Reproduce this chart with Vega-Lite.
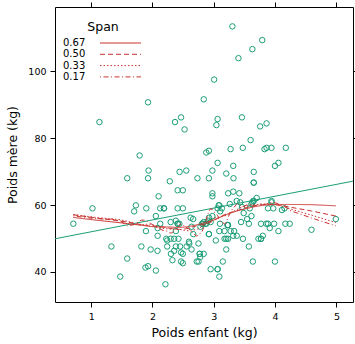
{
  "$schema": "https://vega.github.io/schema/vega-lite/v6.json",
  "width": 298,
  "height": 295,
  "autosize": {"type": "none"},
  "padding": {"left": 55, "top": 7, "right": 2, "bottom": 42},
  "background": "white",
  "config": {
    "view": {"stroke": "black", "strokeWidth": 1},
    "font": "DejaVu Sans",
    "axis": {"grid": false, "domain": false, "tickColor": "black", "tickSize": 5, "labelFontSize": 9.5, "labelColor": "black", "labelPadding": 4, "titleFontSize": 12.5, "titleFontWeight": "normal", "titleColor": "black"}
  },
  "data": {"values": [
    {"bwt":2.523,"lwt":82.6},{"bwt":2.551,"lwt":70.3},{"bwt":2.557,"lwt":47.6},{"bwt":2.594,"lwt":49.0},{"bwt":2.600,"lwt":48.5},
    {"bwt":2.622,"lwt":56.2},{"bwt":2.637,"lwt":53.5},{"bwt":2.637,"lwt":46.7},{"bwt":2.663,"lwt":55.8},{"bwt":2.665,"lwt":51.3},
    {"bwt":2.722,"lwt":43.1},{"bwt":2.733,"lwt":68.0},{"bwt":2.751,"lwt":43.1},{"bwt":2.750,"lwt":48.5},{"bwt":2.769,"lwt":45.4},
    {"bwt":2.769,"lwt":45.4},{"bwt":2.778,"lwt":44.5},{"bwt":2.782,"lwt":53.5},{"bwt":2.807,"lwt":54.4},{"bwt":2.821,"lwt":54.4},
    {"bwt":2.835,"lwt":54.9},{"bwt":2.835,"lwt":45.4},{"bwt":2.836,"lwt":91.6},{"bwt":2.863,"lwt":54.4},{"bwt":2.877,"lwt":54.4},
    {"bwt":2.877,"lwt":75.7},{"bwt":2.906,"lwt":55.3},{"bwt":2.920,"lwt":68.0},{"bwt":2.920,"lwt":76.2},{"bwt":2.920,"lwt":51.3},
    {"bwt":2.920,"lwt":51.3},{"bwt":2.948,"lwt":40.8},{"bwt":2.948,"lwt":54.9},{"bwt":2.977,"lwt":70.3},{"bwt":2.977,"lwt":56.7},
    {"bwt":2.977,"lwt":63.5},{"bwt":2.977,"lwt":62.6},{"bwt":2.922,"lwt":56.2},{"bwt":3.005,"lwt":97.5},{"bwt":3.033,"lwt":49.4},
    {"bwt":3.042,"lwt":83.9},{"bwt":3.062,"lwt":85.7},{"bwt":3.062,"lwt":59.0},{"bwt":3.062,"lwt":72.6},{"bwt":3.062,"lwt":40.8},
    {"bwt":3.062,"lwt":40.8},{"bwt":3.080,"lwt":59.9},{"bwt":3.090,"lwt":59.9},{"bwt":3.090,"lwt":52.2},{"bwt":3.090,"lwt":38.6},
    {"bwt":3.100,"lwt":54.4},{"bwt":3.104,"lwt":58.1},{"bwt":3.132,"lwt":59.0},{"bwt":3.147,"lwt":43.1},{"bwt":3.175,"lwt":52.2},
    {"bwt":3.175,"lwt":49.9},{"bwt":3.203,"lwt":49.9},{"bwt":3.203,"lwt":69.4},{"bwt":3.203,"lwt":46.7},{"bwt":3.225,"lwt":54.0},
    {"bwt":3.225,"lwt":54.0},{"bwt":3.232,"lwt":54.0},{"bwt":3.232,"lwt":49.9},{"bwt":3.234,"lwt":63.5},{"bwt":3.260,"lwt":60.3},
    {"bwt":3.274,"lwt":76.7},{"bwt":3.274,"lwt":52.2},{"bwt":3.303,"lwt":113.4},{"bwt":3.317,"lwt":64.0},{"bwt":3.317,"lwt":71.7},
    {"bwt":3.317,"lwt":50.8},{"bwt":3.321,"lwt":68.0},{"bwt":3.331,"lwt":52.2},{"bwt":3.374,"lwt":50.8},{"bwt":3.374,"lwt":61.2},
    {"bwt":3.402,"lwt":103.9},{"bwt":3.416,"lwt":63.5},{"bwt":3.430,"lwt":60.8},{"bwt":3.444,"lwt":54.9},{"bwt":3.459,"lwt":86.2},
    {"bwt":3.460,"lwt":59.4},{"bwt":3.473,"lwt":77.1},{"bwt":3.475,"lwt":49.9},{"bwt":3.487,"lwt":57.6},{"bwt":3.544,"lwt":55.8},
    {"bwt":3.572,"lwt":54.4},{"bwt":3.572,"lwt":47.6},{"bwt":3.586,"lwt":59.0},{"bwt":3.600,"lwt":79.4},{"bwt":3.614,"lwt":56.7},
    {"bwt":3.614,"lwt":60.3},{"bwt":3.629,"lwt":60.8},{"bwt":3.629,"lwt":106.6},{"bwt":3.637,"lwt":43.1},{"bwt":3.643,"lwt":61.2},
    {"bwt":3.651,"lwt":61.2},{"bwt":3.651,"lwt":69.9},{"bwt":3.651,"lwt":66.7},{"bwt":3.651,"lwt":66.7},{"bwt":3.699,"lwt":62.1},
    {"bwt":3.728,"lwt":49.9},{"bwt":3.756,"lwt":83.5},{"bwt":3.770,"lwt":49.9},{"bwt":3.770,"lwt":49.9},{"bwt":3.770,"lwt":54.4},
    {"bwt":3.790,"lwt":109.3},{"bwt":3.799,"lwt":50.8},{"bwt":3.827,"lwt":76.7},{"bwt":3.856,"lwt":54.4},{"bwt":3.860,"lwt":77.1},
    {"bwt":3.860,"lwt":84.4},{"bwt":3.884,"lwt":54.4},{"bwt":3.884,"lwt":59.0},{"bwt":3.912,"lwt":53.1},{"bwt":3.940,"lwt":77.1},
    {"bwt":3.941,"lwt":60.8},{"bwt":3.941,"lwt":61.2},{"bwt":3.969,"lwt":59.0},{"bwt":3.983,"lwt":54.4},{"bwt":3.997,"lwt":43.1},
    {"bwt":3.997,"lwt":71.7},{"bwt":4.054,"lwt":72.6},{"bwt":4.054,"lwt":52.2},{"bwt":4.111,"lwt":58.5},{"bwt":4.153,"lwt":59.0},
    {"bwt":4.167,"lwt":54.4},{"bwt":4.174,"lwt":77.1},{"bwt":4.238,"lwt":54.4},{"bwt":4.593,"lwt":52.6},{"bwt":4.990,"lwt":55.8},
    {"bwt":0.709,"lwt":54.4},{"bwt":1.021,"lwt":59.0},{"bwt":1.135,"lwt":84.8},{"bwt":1.330,"lwt":47.6},{"bwt":1.474,"lwt":38.6},
    {"bwt":1.588,"lwt":68.0},{"bwt":1.588,"lwt":44.0},{"bwt":1.701,"lwt":58.1},{"bwt":1.729,"lwt":59.9},{"bwt":1.790,"lwt":74.8},
    {"bwt":1.818,"lwt":47.6},{"bwt":1.885,"lwt":41.3},{"bwt":1.893,"lwt":52.2},{"bwt":1.899,"lwt":59.0},{"bwt":1.928,"lwt":41.7},
    {"bwt":1.928,"lwt":68.0},{"bwt":1.928,"lwt":90.7},{"bwt":1.936,"lwt":70.3},{"bwt":1.970,"lwt":46.7},{"bwt":2.055,"lwt":56.7},
    {"bwt":2.055,"lwt":40.4},{"bwt":2.082,"lwt":46.3},{"bwt":2.084,"lwt":50.8},{"bwt":2.084,"lwt":53.1},{"bwt":2.100,"lwt":62.6},
    {"bwt":2.125,"lwt":59.0},{"bwt":2.126,"lwt":54.4},{"bwt":2.187,"lwt":59.0},{"bwt":2.187,"lwt":59.0},{"bwt":2.211,"lwt":36.3},
    {"bwt":2.225,"lwt":49.9},{"bwt":2.240,"lwt":47.6},{"bwt":2.240,"lwt":49.4},{"bwt":2.282,"lwt":67.1},{"bwt":2.296,"lwt":49.9},
    {"bwt":2.296,"lwt":54.9},{"bwt":2.301,"lwt":45.4},{"bwt":2.325,"lwt":43.5},{"bwt":2.353,"lwt":46.3},{"bwt":2.353,"lwt":49.9},
    {"bwt":2.367,"lwt":84.8},{"bwt":2.381,"lwt":55.3},{"bwt":2.381,"lwt":47.6},{"bwt":2.381,"lwt":52.2},{"bwt":2.410,"lwt":54.4},
    {"bwt":2.410,"lwt":64.4},{"bwt":2.410,"lwt":59.0},{"bwt":2.414,"lwt":54.4},{"bwt":2.424,"lwt":49.9},{"bwt":2.438,"lwt":54.4},
    {"bwt":2.442,"lwt":69.9},{"bwt":2.450,"lwt":47.6},{"bwt":2.466,"lwt":86.2},{"bwt":2.466,"lwt":45.8},{"bwt":2.466,"lwt":43.1},
    {"bwt":2.495,"lwt":45.4},{"bwt":2.495,"lwt":42.6},{"bwt":2.495,"lwt":64.4},{"bwt":2.495,"lwt":59.0}
  ]},
  "resolve": {"axis": {"x": "independent", "y": "independent"}},
  "layer": [
    {
      "mark": {"type": "point", "shape": "circle", "filled": false, "size": 30, "strokeWidth": 1, "color": "#1B9E77", "opacity": 1},
      "encoding": {
        "x": {"field": "bwt", "type": "quantitative", "scale": {"domain": [0.41, 5.27], "nice": false, "zero": false}, "axis": {"orient": "bottom", "title": "Poids enfant (kg)", "values": [1, 2, 3, 4, 5], "titlePadding": 6}},
        "y": {"field": "lwt", "type": "quantitative", "scale": {"domain": [31, 119.2], "nice": false, "zero": false}, "axis": {"orient": "left", "title": "Poids mère (kg)", "values": [40, 60, 80, 100], "titlePadding": 8}}
      }
    },
    {
      "transform": [{"regression": "lwt", "on": "bwt", "extent": [0.41, 5.27]}],
      "mark": {"type": "line", "color": "#1B9E77", "strokeWidth": 1, "clip": true},
      "encoding": {
        "x": {"field": "bwt", "type": "quantitative", "scale": {"domain": [0.41, 5.27], "nice": false, "zero": false}, "axis": {"orient": "top", "labels": false, "title": null, "values": [1, 2, 3, 4, 5]}},
        "y": {"field": "lwt", "type": "quantitative", "scale": {"domain": [31, 119.2], "nice": false, "zero": false}, "axis": {"orient": "right", "labels": false, "title": null, "values": [40, 60, 80, 100]}}
      }
    },
    {
      "transform": [{"loess": "lwt", "on": "bwt", "bandwidth": 0.67}],
      "mark": {"type": "line", "color": "#C8332F", "strokeWidth": 1},
      "encoding": {
        "x": {"field": "bwt", "type": "quantitative", "scale": {"domain": [0.41, 5.27], "nice": false, "zero": false}, "axis": null},
        "y": {"field": "lwt", "type": "quantitative", "scale": {"domain": [31, 119.2], "nice": false, "zero": false}, "axis": null},
        "strokeDash": {"datum": "0.67", "type": "nominal", "scale": {"domain": ["0.67", "0.50", "0.33", "0.17"], "range": [[1, 0], [5, 3], [1.5, 2], [1, 2.5, 5, 2.5]]},
          "legend": {"title": "Span", "orient": "none", "legendX": 8, "legendY": 14, "symbolType": "M-4.1,0H4.1", "symbolSize": 100, "symbolStrokeWidth": 1, "symbolStrokeColor": "#C8332F", "symbolFillColor": "transparent", "symbolOffset": 52, "labelAlign": "left", "labelOffset": -63, "labelFontSize": 10, "labelColor": "black", "titleFontSize": 12.5, "titleFontWeight": "normal", "titleColor": "black", "titleAnchor": "middle", "rowPadding": 0.3, "titlePadding": 4, "padding": 0}}
      }
    },
    {
      "transform": [{"loess": "lwt", "on": "bwt", "bandwidth": 0.5}],
      "mark": {"type": "line", "color": "#C8332F", "strokeWidth": 1},
      "encoding": {
        "x": {"field": "bwt", "type": "quantitative", "scale": {"domain": [0.41, 5.27], "nice": false, "zero": false}, "axis": null},
        "y": {"field": "lwt", "type": "quantitative", "scale": {"domain": [31, 119.2], "nice": false, "zero": false}, "axis": null},
        "strokeDash": {"datum": "0.50", "type": "nominal"}
      }
    },
    {
      "transform": [{"loess": "lwt", "on": "bwt", "bandwidth": 0.33}],
      "mark": {"type": "line", "color": "#C8332F", "strokeWidth": 1},
      "encoding": {
        "x": {"field": "bwt", "type": "quantitative", "scale": {"domain": [0.41, 5.27], "nice": false, "zero": false}, "axis": null},
        "y": {"field": "lwt", "type": "quantitative", "scale": {"domain": [31, 119.2], "nice": false, "zero": false}, "axis": null},
        "strokeDash": {"datum": "0.33", "type": "nominal"}
      }
    },
    {
      "transform": [{"loess": "lwt", "on": "bwt", "bandwidth": 0.17}],
      "mark": {"type": "line", "color": "#C8332F", "strokeWidth": 1},
      "encoding": {
        "x": {"field": "bwt", "type": "quantitative", "scale": {"domain": [0.41, 5.27], "nice": false, "zero": false}, "axis": null},
        "y": {"field": "lwt", "type": "quantitative", "scale": {"domain": [31, 119.2], "nice": false, "zero": false}, "axis": null},
        "strokeDash": {"datum": "0.17", "type": "nominal"}
      }
    }
  ]
}
